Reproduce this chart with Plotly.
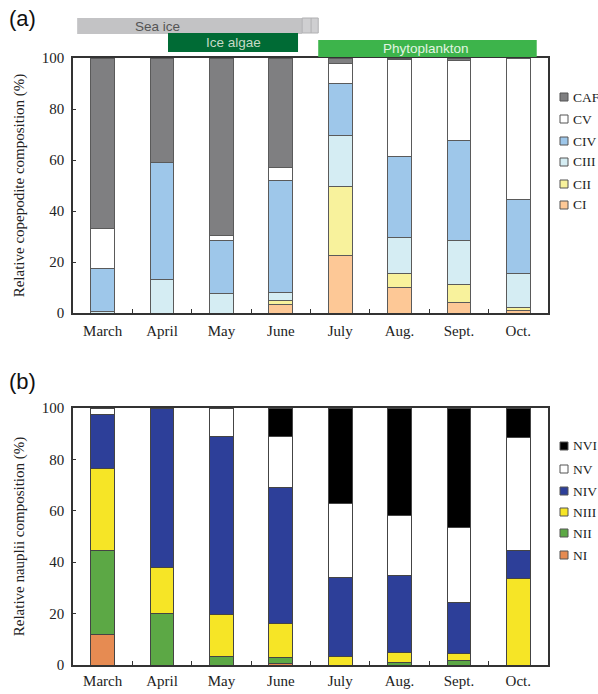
import plotly.graph_objects as go

months = ["March", "April", "May", "June", "July", "Aug.", "Sept.", "Oct."]

# Panel (a): relative copepodite composition (%)
CI = [0, 0, 0, 3.5, 22.5, 10, 4.3, 1]
CII = [0, 0, 0, 1.5, 27, 5.5, 6.8, 1]
CIII = [0.5, 13, 7.5, 3, 20, 14, 17.4, 13.4]
CIV = [17, 46, 21, 44, 20.5, 32, 39.2, 29]
CV = [15.5, 0, 2, 5, 8, 38, 31.3, 55.6]
CAF = [67, 41, 69.5, 43, 2, 0.5, 1, 0]

# Panel (b): relative nauplii composition (%)
NI = [12, 0, 0, 0.5, 0, 0, 0, 0]
NII = [32.5, 20, 3.5, 2.5, 0, 1, 1.7, 0]
NIII = [32, 18, 16, 13, 3.5, 4, 2.8, 33.5]
NIV = [21, 62, 69.5, 53, 30.5, 30, 20, 11]
NV = [2.5, 0, 11, 20, 29, 23, 29, 44]
NVI = [0, 0, 0, 11, 37, 42, 46.5, 11.5]

cop_names = ["CI", "CII", "CIII", "CIV", "CV", "CAF"]
cop_vals = [CI, CII, CIII, CIV, CV, CAF]
cop_cols = ["#fdc896", "#f8f29c", "#d5edf3", "#9ec7ea", "#ffffff", "#7f7f81"]

nau_names = ["NI", "NII", "NIII", "NIV", "NV", "NVI"]
nau_vals = [NI, NII, NIII, NIV, NV, NVI]
nau_cols = ["#e68b52", "#5ca845", "#f6e526", "#2d3f99", "#ffffff", "#000000"]

# Season periods (in category units along the month axis)
periods = [
    ("Sea ice", -0.43, 3.36, "#c3c3c5", "#555555", 0.93),
    ("Ice algae", 1.10, 3.29, "#006b35", "#c5dac5", 2.2),
    ("Phytoplankton", 3.63, 7.31, "#3db44b", "#e2f4e2", 5.45),
]

W, H = 598, 694
L, R, T, B = 73, 50, 58, 29
PW, PH = W - L - R, H - T - B

def px(x):
    return (x - L) / PW

def py(y):
    return 1 - (y - T) / PH

SERIF = "Liberation Serif, Times New Roman, serif"
SANS = "Liberation Sans, Arial, sans-serif"

fig = go.Figure()
for n, v, c in zip(cop_names, cop_vals, cop_cols):
    fig.add_trace(go.Bar(x=months, y=v, name=n, marker=dict(color=c, line=dict(color="#5a5a5a", width=1)),
                         width=0.4, xaxis="x", yaxis="y", showlegend=False))
for n, v, c in zip(nau_names, nau_vals, nau_cols):
    fig.add_trace(go.Bar(x=months, y=v, name=n, marker=dict(color=c, line=dict(color="#444444", width=1)),
                         width=0.4, xaxis="x2", yaxis="y2", showlegend=False))

dom_a = [(665 - 313) / PH, 1]
dom_b = [0, (665 - 408) / PH]

axis_common = dict(showline=True, mirror=True, linecolor="#333333", linewidth=1.5, automargin=False,
                   ticks="inside", tickcolor="#333333", showgrid=False, zeroline=False,
                   tickfont=dict(family=SERIF, size=15, color="#222"))

fig.update_layout(
    width=W, height=H, margin=dict(l=L, r=R, t=T, b=B, autoexpand=False),
    paper_bgcolor="white", plot_bgcolor="white", barmode="stack",
    xaxis=dict(domain=[0, 1], anchor="y", type="category", range=[-0.5, 7.5], tickson="boundaries",
               ticklen=4, ticklabelstandoff=3, **axis_common),
    yaxis=dict(domain=dom_a, anchor="x", range=[0, 100], dtick=20, ticklen=3, ticklabelstandoff=4,
               title=dict(text="Relative copepodite composition (%)", font=dict(family=SERIF, size=15, color="#222"), standoff=14),
               **axis_common),
    xaxis2=dict(domain=[0, 1], anchor="y2", type="category", range=[-0.5, 7.5], tickson="boundaries",
                ticklen=4, ticklabelstandoff=1, **axis_common),
    yaxis2=dict(domain=dom_b, anchor="x2", range=[0, 100], dtick=20, ticklen=3, ticklabelstandoff=4,
                title=dict(text="Relative nauplii composition (%)", font=dict(family=SERIF, size=15, color="#222"), standoff=14),
                **axis_common),
)

shapes = []
annotations = []

# season bars above panel (a)
ybands = {"Sea ice": (18, 34), "Ice algae": (33, 52), "Phytoplankton": (40, 57)}
for name, x0, x1, fill, tcol, tx in periods:
    y0, y1 = ybands[name]
    shapes.append(dict(type="rect", xref="x", yref="paper", x0=x0, x1=x1, y0=py(y1), y1=py(y0),
                       fillcolor=fill, line=dict(width=0), layer="above"))
    annotations.append(dict(text=name, xref="x", yref="paper", x=tx, y=py((y0 + y1) / 2),
                            xanchor="center", yanchor="middle",
                            showarrow=False, font=dict(family=SANS, size=13.5, color=tcol)))
# small end box of the sea-ice bar
shapes.append(dict(type="rect", xref="x", yref="paper", x0=3.36, x1=3.63, y0=py(33), y1=py(18),
                   fillcolor="#cfcfd1", line=dict(color="#b0b0b2", width=1)))
shapes.append(dict(type="line", xref="x", yref="paper", x0=3.51, x1=3.51, y0=py(33), y1=py(18),
                   line=dict(color="#b0b0b2", width=1)))

# legends
def legend(names, cols, ys):
    for n, c, y in zip(names, cols, ys):
        shapes.append(dict(type="rect", xref="paper", yref="paper", x0=px(560), x1=px(568),
                           y0=py(y + 4), y1=py(y - 4), fillcolor=c, line=dict(color="#555", width=1)))
        annotations.append(dict(text=n, xref="paper", yref="paper", x=px(570.5), y=py(y), xanchor="left",
                                yanchor="middle", showarrow=False, font=dict(family=SERIF, size=13.5, color="#222")))

legend(cop_names[::-1], cop_cols[::-1], [97, 119, 141, 162, 184, 205])
legend(nau_names[::-1], nau_cols[::-1], [446, 469, 491, 512, 533, 555])

annotations.append(dict(text="(a)", xref="paper", yref="paper", x=px(7), y=py(19), xanchor="left",
                        yanchor="middle", showarrow=False, font=dict(family=SANS, size=22, color="#111")))
annotations.append(dict(text="(b)", xref="paper", yref="paper", x=px(7), y=py(381), xanchor="left",
                        yanchor="middle", showarrow=False, font=dict(family=SANS, size=22, color="#111")))

fig.update_layout(shapes=shapes, annotations=annotations)
fig.write_html("out.html")
